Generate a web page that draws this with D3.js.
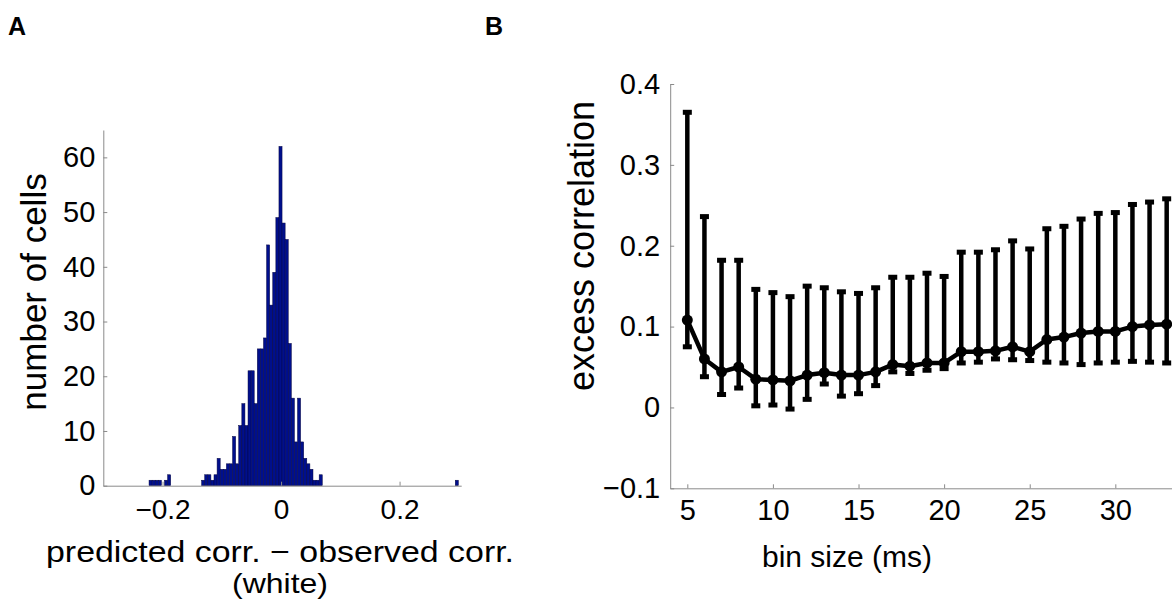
<!DOCTYPE html>
<html>
<head>
<meta charset="utf-8">
<script src="https://cdn.jsdelivr.net/npm/d3@7"></script>
<style>
  body { margin: 0; background: #fff; }
  svg { display: block; font-family: "Liberation Sans", Arial, sans-serif; }
  .axis path, .axis line { stroke: #8a8a8a; stroke-width: 1; }
  .axis text { fill: #000; }
</style>
</head>
<body>
<svg id="fig" width="1172" height="600"></svg>
<script>
// panel A: histogram of predicted - observed correlation (100 bins)
const histStart = -0.2228;
const histBinWidth = 0.00522;
const histCounts = [
  1, 1, 1, 1, 0, 1, 2, 0, 0, 0,
  0, 0, 0, 0, 0, 0, 0, 1, 2, 2,
  1, 2, 5, 3, 3, 4, 4, 9, 4, 11,
  15, 11, 21, 21, 15, 25, 25, 27, 44, 33,
  39, 49, 62, 48, 45, 26, 16, 8, 16, 8,
  5, 4, 3, 1, 1, 2, 0, 0, 0, 0,
  0, 0, 0, 0, 0, 0, 0, 0, 0, 0,
  0, 0, 0, 0, 0, 0, 0, 0, 0, 0,
  0, 0, 0, 0, 0, 0, 0, 0, 0, 0,
  0, 0, 0, 0, 0, 0, 0, 0, 0, 1
];
const histXTicks = [-0.2, 0, 0.2];
const histYTicks = [0, 10, 20, 30, 40, 50, 60];

// panel B: excess correlation vs bin size
const binSizes = [5, 6, 7, 8, 9, 10, 11, 12, 13, 14, 15, 16, 17, 18, 19, 20, 21, 22, 23, 24, 25, 26, 27, 28, 29, 30, 31, 32, 33];
const excessMean = [0.108, 0.060, 0.044, 0.050, 0.035, 0.034, 0.033, 0.040, 0.043, 0.040, 0.040, 0.044, 0.053, 0.051, 0.055,
  0.055, 0.069, 0.069, 0.070, 0.075, 0.069, 0.084, 0.087, 0.092, 0.094, 0.094, 0.100, 0.102, 0.103];
const excessUpper = [0.365, 0.236, 0.182, 0.182, 0.146, 0.142, 0.137, 0.150, 0.148, 0.143, 0.141, 0.148, 0.161, 0.161, 0.166,
  0.162, 0.192, 0.192, 0.195, 0.206, 0.196, 0.221, 0.224, 0.233, 0.240, 0.241, 0.251, 0.254, 0.258];
const excessLower = [0.075, 0.038, 0.016, 0.024, 0.002, 0.003, -0.002, 0.010, 0.029, 0.014, 0.017, 0.027, 0.044, 0.042, 0.046,
  0.048, 0.055, 0.056, 0.060, 0.059, 0.058, 0.056, 0.055, 0.053, 0.055, 0.056, 0.057, 0.056, 0.055];
const binXTicks = [5, 10, 15, 20, 25, 30];
const binYTicks = [-0.1, 0, 0.1, 0.2, 0.3, 0.4];

const svg = d3.select("#fig");
const fmt = d => d === 0 ? "0" : d3.format(".1f")(d).replace("-", "\u2212");

// ---------- panel A ----------
const xA = d3.scaleLinear().domain([-0.3, 0.304]).range([103.3, 461.2]);
const yA = d3.scaleLinear().domain([0, 65]).range([485.7, 130]);
const gA = svg.append("g");

const bins = histCounts.map((c, i) => ({ x0: histStart + i * histBinWidth, x1: histStart + (i + 1) * histBinWidth, n: c }));

gA.selectAll("rect.bar")
  .data(bins.filter(d => d.n > 0))
  .join("rect")
  .attr("class", "bar")
  .attr("x", d => xA(d.x0))
  .attr("width", d => xA(d.x1) - xA(d.x0))
  .attr("y", d => yA(d.n))
  .attr("height", d => yA(0) - yA(d.n))
  .attr("fill", "#000f8c")
  .attr("stroke", "#060640")
  .attr("stroke-width", 0.5);

const axAx = gA.append("g")
  .attr("class", "axis")
  .attr("transform", "translate(0," + yA(0) + ")")
  .call(d3.axisBottom(xA).tickValues(histXTicks).tickSizeInner(-4).tickSizeOuter(0).tickFormat(fmt));
axAx.selectAll("text").attr("y", 13).attr("dy", "0.71em").style("font-size", "28px");

const ayA = gA.append("g")
  .attr("class", "axis")
  .attr("transform", "translate(" + xA(-0.3) + ",0)")
  .call(d3.axisLeft(yA).tickValues(histYTicks).tickSizeInner(-4).tickSizeOuter(0).tickPadding(8));
ayA.selectAll("text").style("font-size", "29px");

gA.append("text")
  .attr("transform", "translate(46,292) rotate(-90)")
  .attr("text-anchor", "middle")
  .style("font-size", "35px")
  .text("number of cells");

gA.append("text")
  .attr("x", 280).attr("y", 562)
  .attr("text-anchor", "middle")
  .attr("textLength", 468)
  .attr("lengthAdjust", "spacingAndGlyphs")
  .style("font-size", "30px")
  .text("predicted corr. \u2212 observed corr.");

gA.append("text")
  .attr("x", 280).attr("y", 593)
  .attr("text-anchor", "middle")
  .attr("textLength", 96)
  .attr("lengthAdjust", "spacingAndGlyphs")
  .style("font-size", "28px")
  .text("(white)");

svg.append("text").attr("x", 8).attr("y", 35)
  .style("font-size", "25px").style("font-weight", "bold").text("A");

// ---------- panel B ----------
const xB = d3.scaleLinear().domain([4, 34]).range([670.2, 1183.8]);
const yB = d3.scaleLinear().domain([-0.1, 0.4]).range([488.3, 84]);
const gB = svg.append("g");

const axB = gB.append("g")
  .attr("class", "axis")
  .attr("transform", "translate(0," + yB(-0.1) + ")")
  .call(d3.axisBottom(xB).tickValues(binXTicks).tickSizeInner(-4).tickSizeOuter(0));
axB.selectAll("text").attr("y", 11).attr("dy", "0.71em").style("font-size", "29px");

const ayB = gB.append("g")
  .attr("class", "axis")
  .attr("transform", "translate(" + xB(4) + ",0)")
  .call(d3.axisLeft(yB).tickValues(binYTicks).tickSizeInner(-4).tickSizeOuter(0).tickPadding(10).tickFormat(fmt));
ayB.selectAll("text").style("font-size", "29px");

const pts = binSizes.map((b, i) => ({ b: b, m: excessMean[i], lo: excessLower[i], hi: excessUpper[i] }));

gB.selectAll("line.err")
  .data(pts)
  .join("line")
  .attr("class", "err")
  .attr("x1", d => xB(d.b)).attr("x2", d => xB(d.b))
  .attr("y1", d => yB(d.lo)).attr("y2", d => yB(d.hi))
  .attr("stroke", "#000").attr("stroke-width", 4.5);

const caps = pts.flatMap(d => [d.lo, d.hi].map(v => ({ b: d.b, v: v })));
gB.selectAll("rect.cap")
  .data(caps)
  .join("rect")
  .attr("class", "cap")
  .attr("x", d => xB(d.b) - 4.5)
  .attr("y", d => yB(d.v) - 2.5)
  .attr("width", 9).attr("height", 5)
  .attr("fill", "#000");

gB.append("path")
  .datum(pts)
  .attr("fill", "none")
  .attr("stroke", "#000")
  .attr("stroke-width", 4.5)
  .attr("stroke-linejoin", "round")
  .attr("d", d3.line().x(d => xB(d.b)).y(d => yB(d.m)));

gB.selectAll("circle.pt")
  .data(pts)
  .join("circle")
  .attr("class", "pt")
  .attr("cx", d => xB(d.b)).attr("cy", d => yB(d.m))
  .attr("r", 5.5)
  .attr("fill", "#000");

gB.append("text")
  .attr("transform", "translate(594,246) rotate(-90)")
  .attr("text-anchor", "middle")
  .style("font-size", "36px")
  .text("excess correlation");

gB.append("text")
  .attr("x", 847).attr("y", 567)
  .attr("text-anchor", "middle")
  .style("font-size", "30px")
  .text("bin size (ms)");

svg.append("text").attr("x", 485).attr("y", 35)
  .style("font-size", "25px").style("font-weight", "bold").text("B");
</script>
</body>
</html>
